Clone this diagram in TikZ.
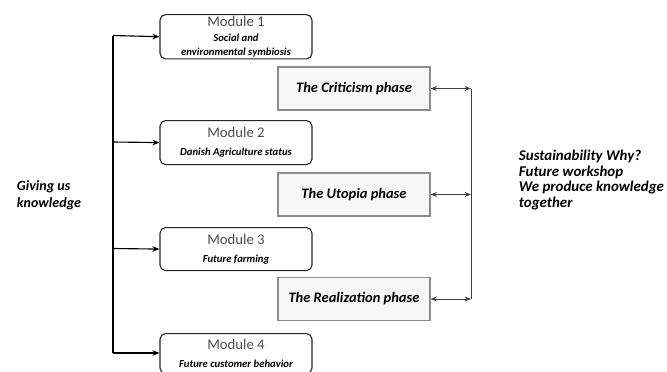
\documentclass[tikz,border=0pt]{standalone}
\usepackage{fontspec}
\setmainfont{Carlito}
\usetikzlibrary{arrows.meta}
\tikzset{
  modbox/.style={draw=black!85, line width=0.8pt, rounded corners=4pt, minimum width=3.8cm, align=center, anchor=north, inner sep=1pt},
  phasebox/.style={draw=black!45, fill=black!3, line width=0.8pt, minimum width=3.8cm, minimum height=1.075cm, font=\fontsize{10.3}{12}\selectfont\bfseries\itshape},
  link/.style={line width=0.8pt, -{Stealth[length=5pt,width=4pt]}},
  twoway/.style={line width=0.7pt, draw=black!75, {Stealth[length=4.5pt,width=3.5pt]}-{Stealth[length=4.5pt,width=3.5pt]}}
}
\newcommand{\modsub}[1]{{\fontsize{7.6}{9}\selectfont\bfseries\itshape #1}}
\begin{document}
\begin{tikzpicture}[x=0.025cm,y=-0.025cm]
\useasboundingbox (0,0) rectangle (667,371);
                % modules
                \node[modbox, minimum height=1.075cm](mod1) at (236,14){\textcolor{black!70}{\fontsize{10.5}{11}\selectfont Module 1}\\[-1pt]\modsub{Social and}\\[-2pt]\modsub{environmental symbiosis}};
                \node[modbox, minimum height=1.1cm](mod2) at (236,120){\textcolor{black!70}{\fontsize{10.5}{12}\selectfont Module 2}\\[1pt]\modsub{Danish Agriculture status}};
                \node[modbox, minimum height=1.075cm](mod3) at (236,227){\textcolor{black!70}{\fontsize{10.5}{12}\selectfont Module 3}\\[1pt]\modsub{Future farming}};
                \node[modbox, minimum height=1.0cm](mod4) at (236,333){\textcolor{black!70}{\fontsize{10.5}{12}\selectfont Module 4}\\[1pt]\modsub{Future customer behavior}};
                % phases
                \node[phasebox](crit) at (354,88.5){The Criticism phase};
                \node[phasebox](utop) at (354,194.5){The Utopia phase};
                \node[phasebox](real) at (354,299){The Realization phase};
                % side texts
                \node[anchor=west, align=left, font=\fontsize{10}{12}\selectfont\bfseries\itshape](give) at (12,195){Giving us\\knowledge};
                \node[anchor=west, align=left, font=\fontsize{10.6}{11.3}\selectfont\bfseries\itshape](why) at (514,180){Sustainability Why?\\Future workshop\\We produce knowledge\\together};
                % left tree
                \coordinate (top) at (113,35.5);
                \coordinate (bot) at (113,353);
                \draw[line width=0.8pt] (top) -- (bot);
                \draw[link] (top) -- (mod1.west);
                \draw[link] (113,142) -- (mod2.west);
                \draw[link] (113,248.5) -- (mod3.west);
                \draw[link] (bot) -- (mod4.west |- bot);
                % right tree
                \coordinate (cr) at (471,88.5);
                \coordinate (ur) at (471,194.5);
                \coordinate (rr) at (471,299);
                \draw[line width=0.7pt, black!75] (cr) -- (rr);
                \draw[twoway] (crit.east) -- (cr);
                \draw[twoway] (utop.east) -- (ur);
                \draw[twoway] (real.east) -- (rr);
\end{tikzpicture}
\end{document}
